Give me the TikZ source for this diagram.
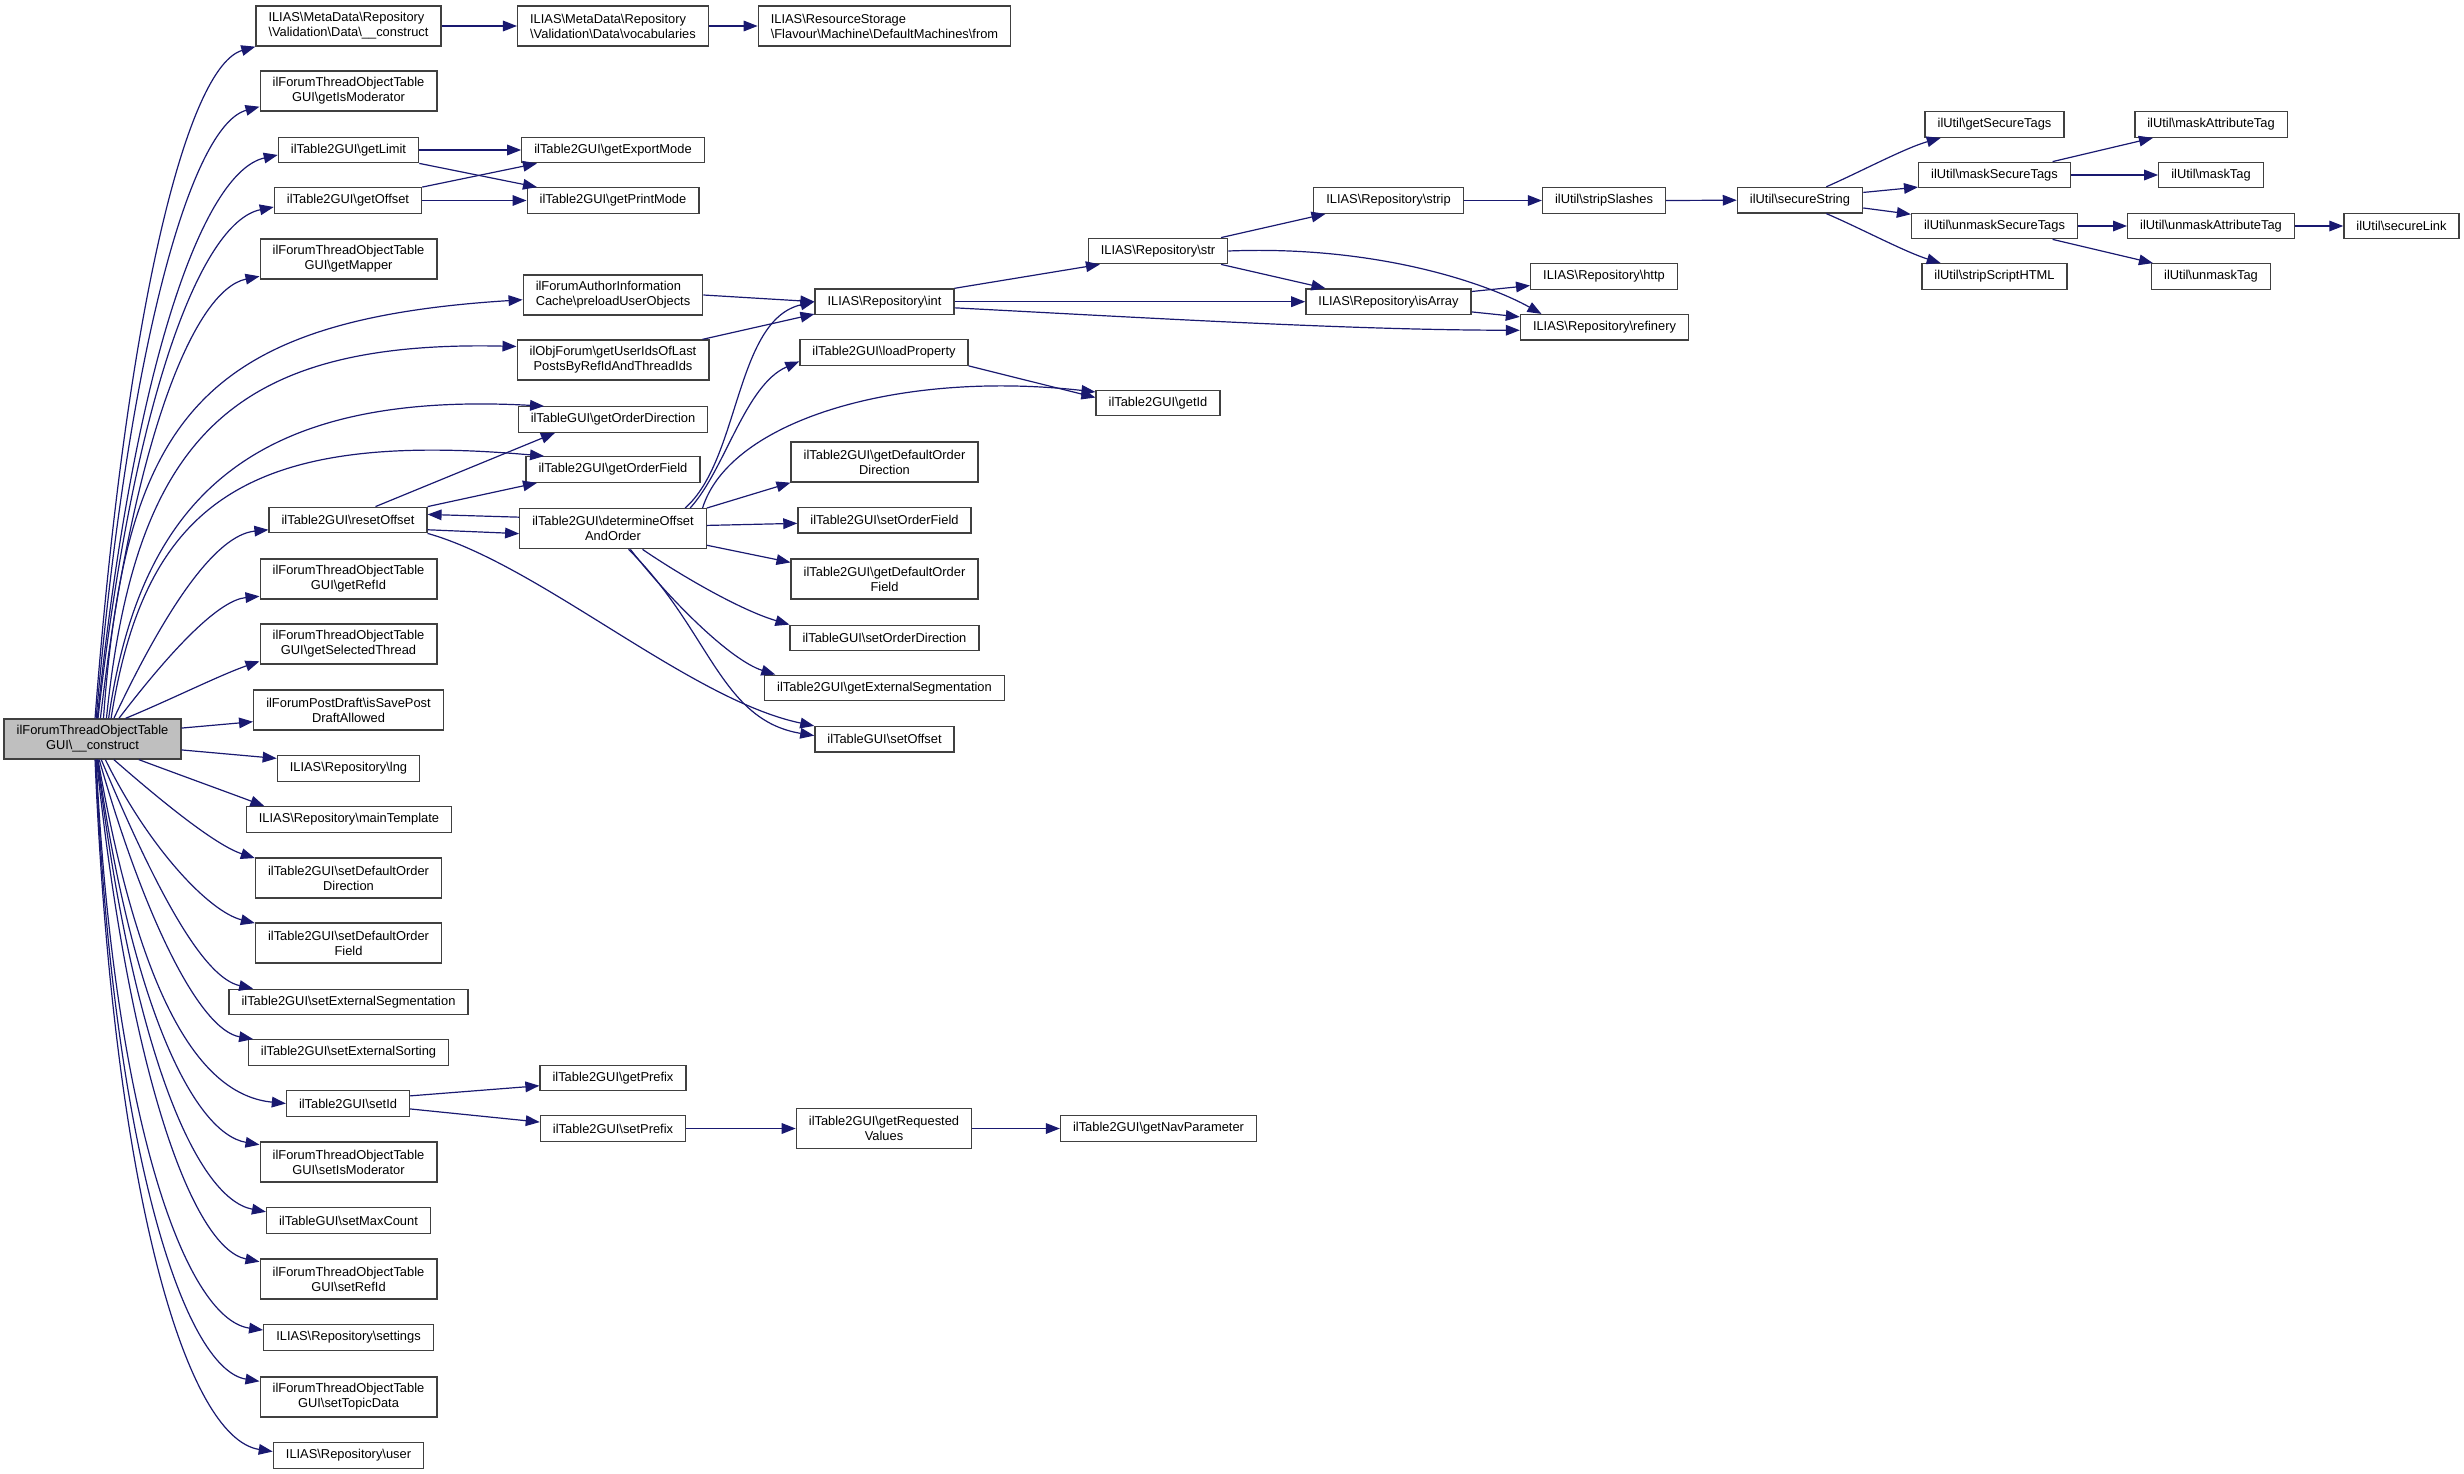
\documentclass[tikz,border=0pt]{standalone}
\usepackage{fontspec}
\newfontfamily\dotfont{Liberation Sans}
\usetikzlibrary{arrows.meta}
\definecolor{edgeblue}{HTML}{191970}
\definecolor{boxline}{HTML}{404040}
\definecolor{rootfill}{HTML}{BFBFBF}
\newcommand{\bsl}{\textbackslash}
\tikzset{
callgraph/.style={x=0.75pt,y=-0.75pt,>={Triangle[length=10.5pt,width=8pt]}},
fn/.style={draw=boxline,line width=1pt,fill=white,
font=\dotfont\fontsize{9.65pt}{11.25pt}\selectfont,
inner xsep=9.4pt,inner ysep=4.6pt,minimum height=19.1pt,align=center},
fntwo/.style={fn,minimum height=30pt},
fnleft/.style={fntwo,align=left},
root/.style={fntwo,fill=rootfill},
call/.style={->,draw=edgeblue,line width=0.9pt},
}
\begin{document}
\begin{tikzpicture}[callgraph]
\useasboundingbox (0,0) rectangle (2464,1474);
\node[root] (m) at (92.5,739) {ilForumThreadObjectTable\\GUI\bsl\_\_construct};
% first rank
\node[fnleft] (dc) at (348.5,26) {ILIAS\bsl MetaData\bsl Repository\\\bsl Validation\bsl Data\bsl\_\_construct};
\node[fntwo] (gim) at (348.5,91) {ilForumThreadObjectTable\\GUI\bsl getIsModerator};
\node[fn] (glim) at (348.5,150) {ilTable2GUI\bsl getLimit};
\node[fn] (goff) at (348,200.5) {ilTable2GUI\bsl getOffset};
\node[fntwo] (gmap) at (348.5,259) {ilForumThreadObjectTable\\GUI\bsl getMapper};
\node[fn] (reset) at (348,520) {ilTable2GUI\bsl resetOffset};
\node[fntwo] (grefid) at (348.5,579) {ilForumThreadObjectTable\\GUI\bsl getRefId};
\node[fntwo] (gsel) at (348.5,644) {ilForumThreadObjectTable\\GUI\bsl getSelectedThread};
\node[fntwo] (save) at (348.5,710) {ilForumPostDraft\bsl isSavePost\\DraftAllowed};
\node[fn] (lng) at (348.5,768.5) {ILIAS\bsl Repository\bsl lng};
\node[fn] (mtpl) at (349,819.5) {ILIAS\bsl Repository\bsl mainTemplate};
\node[fntwo] (sdod) at (348.5,878) {ilTable2GUI\bsl setDefaultOrder\\Direction};
\node[fntwo] (sdof) at (348.5,943) {ilTable2GUI\bsl setDefaultOrder\\Field};
\node[fn] (sext) at (348.5,1002) {ilTable2GUI\bsl setExternalSegmentation};
\node[fn] (ssort) at (348.5,1052.5) {ilTable2GUI\bsl setExternalSorting};
\node[fn] (setid) at (348,1103.5) {ilTable2GUI\bsl setId};
\node[fntwo] (sismod) at (348.5,1162) {ilForumThreadObjectTable\\GUI\bsl setIsModerator};
\node[fn] (smax) at (348.5,1220.5) {ilTableGUI\bsl setMaxCount};
\node[fntwo] (srefid) at (348.5,1279) {ilForumThreadObjectTable\\GUI\bsl setRefId};
\node[fn] (sett) at (348.5,1337.5) {ILIAS\bsl Repository\bsl settings};
\node[fntwo] (stopic) at (348.5,1397) {ilForumThreadObjectTable\\GUI\bsl setTopicData};
\node[fn] (user) at (348.5,1455.5) {ILIAS\bsl Repository\bsl user};
% second rank
\node[fnleft] (voc) at (613,26) {ILIAS\bsl MetaData\bsl Repository\\\bsl Validation\bsl Data\bsl vocabularies};
\node[fn] (gexp) at (613,150) {ilTable2GUI\bsl getExportMode};
\node[fn] (gprint) at (613,200.5) {ilTable2GUI\bsl getPrintMode};
\node[fnleft] (preload) at (613,295) {ilForumAuthorInformation\\Cache\bsl preloadUserObjects};
\node[fntwo] (guid) at (613,360) {ilObjForum\bsl getUserIdsOfLast\\PostsByRefIdAndThreadIds};
\node[fn] (god) at (613,419.5) {ilTableGUI\bsl getOrderDirection};
\node[fn] (gof) at (613,469.5) {ilTable2GUI\bsl getOrderField};
\node[fntwo] (det) at (613,528.7) {ilTable2GUI\bsl determineOffset\\AndOrder};
\node[fn] (gpre) at (613,1078) {ilTable2GUI\bsl getPrefix};
\node[fn] (spre) at (613,1128.5) {ilTable2GUI\bsl setPrefix};
% third rank
\node[fnleft] (from) at (884.5,26) {ILIAS\bsl ResourceStorage\\\bsl Flavour\bsl Machine\bsl DefaultMachines\bsl from};
\node[fn] (int) at (884.5,301.7) {ILIAS\bsl Repository\bsl int};
\node[fn] (lprop) at (884,352.5) {ilTable2GUI\bsl loadProperty};
\node[fntwo] (gdod) at (884.5,462) {ilTable2GUI\bsl getDefaultOrder\\Direction};
\node[fn] (sof) at (884.5,520.3) {ilTable2GUI\bsl setOrderField};
\node[fntwo] (gdof) at (884.5,579) {ilTable2GUI\bsl getDefaultOrder\\Field};
\node[fn] (sod) at (884.5,638) {ilTableGUI\bsl setOrderDirection};
\node[fn] (gext) at (884.5,688) {ilTable2GUI\bsl getExternalSegmentation};
\node[fn] (soff) at (884.5,739.3) {ilTableGUI\bsl setOffset};
\node[fntwo] (greq) at (884,1128.5) {ilTable2GUI\bsl getRequested\\Values};
% further ranks
\node[fn] (str) at (1158,251) {ILIAS\bsl Repository\bsl str};
\node[fn] (gid) at (1158,403) {ilTable2GUI\bsl getId};
\node[fn] (gnav) at (1158.5,1128.5) {ilTable2GUI\bsl getNavParameter};
\node[fn] (strip) at (1388.5,200.5) {ILIAS\bsl Repository\bsl strip};
\node[fn] (isarr) at (1388.5,301.7) {ILIAS\bsl Repository\bsl isArray};
\node[fn] (sslash) at (1604,200.5) {ilUtil\bsl stripSlashes};
\node[fn] (http) at (1604,276.5) {ILIAS\bsl Repository\bsl http};
\node[fn] (refin) at (1604.5,327.3) {ILIAS\bsl Repository\bsl refinery};
\node[fn] (secstr) at (1800,200.2) {ilUtil\bsl secureString};
\node[fn] (gst) at (1994.5,124.5) {ilUtil\bsl getSecureTags};
\node[fn] (mst) at (1994.5,175) {ilUtil\bsl maskSecureTags};
\node[fn] (ust) at (1994.5,226) {ilUtil\bsl unmaskSecureTags};
\node[fn] (ssh) at (1994.5,276.5) {ilUtil\bsl stripScriptHTML};
\node[fn] (mat) at (2211,124.5) {ilUtil\bsl maskAttributeTag};
\node[fn] (mtag) at (2211,175) {ilUtil\bsl maskTag};
\node[fn] (uat) at (2211,226) {ilUtil\bsl unmaskAttributeTag};
\node[fn] (utag) at (2211,276.5) {ilUtil\bsl unmaskTag};
\node[fn] (slink) at (2401.5,226) {ilUtil\bsl secureLink};

% calls of the constructor
\draw[call] (m.83) .. controls (127,302) and (188,66) .. (dc.south west);
\draw[call] (m.80) .. controls (129,340) and (192,125) .. (gim.190);
\draw[call] (m.77) .. controls (133,369) and (202,172) .. (glim.184);
\draw[call] (m.75) .. controls (133,402) and (200,222) .. (goff.185);
\draw[call] (m.69) .. controls (132,445) and (193,290) .. (gmap.191);
\draw[call] (m.62) .. controls (125,420) and (200,320) .. (preload.183);
\draw[call] (m.56) .. controls (135,440) and (230,340) .. (guid.172);
\draw[call] (m.52) .. controls (140,500) and (250,390) .. (god.169);
\draw[call] (m.48) .. controls (145,500) and (250,430) .. (gof.169);
\draw[call] (m.44) .. controls (165,610) and (215,535) .. (reset.187);
\draw[call] (m.38) .. controls (175,645) and (220,600) .. (grefid.191);
\draw[call] (m.32) .. controls (170,700) and (220,675) .. (gsel.191);
\draw[call] (m.7) -- (save.187);
\draw[call] (m.-7) -- (lng.172);
\draw[call] (m.-24) .. controls (180,775) and (235,795) .. (mtpl.171);
\draw[call] (m.-44) .. controls (160,800) and (215,845) .. (sdod.168);
\draw[call] (m.-58) .. controls (150,850) and (210,912) .. (sdof.168);
\draw[call] (m.-67) .. controls (160,900) and (205,978) .. (sext.172);
\draw[call] (m.-72) .. controls (145,920) and (200,1030) .. (ssort.172);
\draw[call] (m.-75) .. controls (140,1000) and (200,1095) .. (setid.west);
\draw[call] (m.-76) .. controls (130,998) and (192,1133) .. (sismod.169);
\draw[call] (m.-77) .. controls (131,1040) and (194,1198) .. (smax.174);
\draw[call] (m.-79) .. controls (129,1071) and (192,1248) .. (srefid.169);
\draw[call] (m.-80) .. controls (113,1113) and (184,1319) .. (sett.175);
\draw[call] (m.-81) .. controls (112,1145) and (183,1369) .. (stopic.170);
\draw[call] (m.-83) .. controls (113,1189) and (185,1438) .. (user.177);

\draw[call] (dc.east) -- (voc.west);
\draw[call] (voc.east) -- (from.west);
\draw[call] (glim.east) -- (gexp.west);
\draw[call] (glim.south east) -- (gprint.170);
\draw[call] (goff.north east) -- (gexp.190);
\draw[call] (goff.east) -- (gprint.west);
\draw[call] (preload.east) -- (int.west);
\draw[call] (guid.13) -- (int.190);

% offset and order
\draw[call] (reset.26) -- (god.193);
\draw[call] (reset.north east) -- (gof.190);
\draw[call] (reset.-7) -- (det.183);
\draw[call] (det.173) -- (reset.4);
\draw[call] (reset.south east) .. controls (540,565) and (690,700) .. (soff.north west);
\draw[call] (det.16) .. controls (740,460) and (735,320) .. (int.west);
\draw[call] (det.15) .. controls (725,470) and (745,385) .. (lprop.186);
\draw[call] (det.13) .. controls (730,420) and (900,370) .. (gid.170);
\draw[call] (lprop.south east) -- (gid.175);
\draw[call] (det.north east) -- (gdod.south west);
\draw[call] (det.2) -- (sof.182);
\draw[call] (det.-10) -- (gdof.170);
\draw[call] (det.-35) .. controls (680,575) and (740,610) .. (sod.north west);
\draw[call] (det.-50) .. controls (670,600) and (730,660) .. (gext.173);
\draw[call] (det.-53) .. controls (710,630) and (720,720) .. (soff.177);

% repository and util
\draw[call] (int.north east) -- (str.193);
\draw[call] (int.east) -- (isarr.west);
\draw[call] (int.-5) .. controls (1150,318) and (1350,330) .. (refin.182);
\draw[call] (str.12) -- (strip.192);
\draw[call] (str.-12) -- (isarr.168);
\draw[call] (str.east) .. controls (1380,245) and (1490,285) .. (refin.168);
\draw[call] (strip.east) -- (sslash.west);
\draw[call] (sslash.east) -- (secstr.west);
\draw[call] (isarr.7) -- (http.187);
\draw[call] (isarr.-7) -- (refin.173);
\draw[call] (secstr.27) .. controls (1860,172) and (1905,148) .. (gst.194);
\draw[call] (secstr.7) -- (mst.189);
\draw[call] (secstr.-7) -- (ust.172);
\draw[call] (secstr.-27) .. controls (1860,228) and (1905,252) .. (ssh.166);
\draw[call] (mst.13) -- (mat.193);
\draw[call] (mst.east) -- (mtag.west);
\draw[call] (ust.east) -- (uat.west);
\draw[call] (ust.-13) -- (utag.167);
\draw[call] (uat.east) -- (slink.west);

\draw[call] (setid.7) -- (gpre.186);
\draw[call] (setid.-5) -- (spre.175);
\draw[call] (spre.east) -- (greq.west);
\draw[call] (greq.east) -- (gnav.west);
\end{tikzpicture}
\end{document}
